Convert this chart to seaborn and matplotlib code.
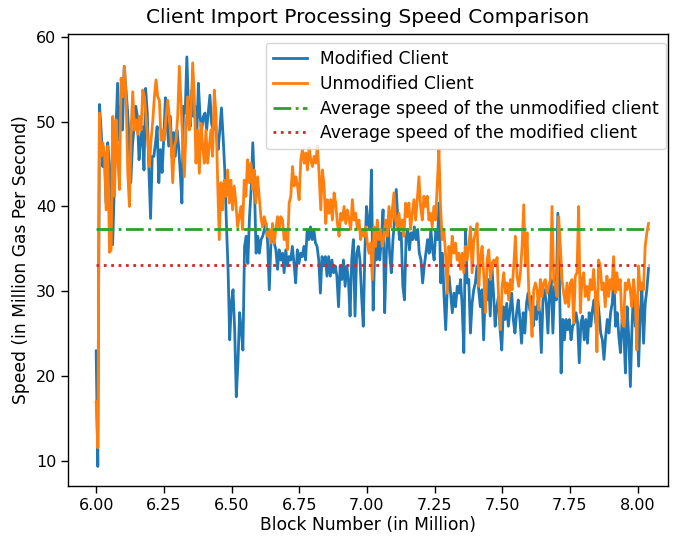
import numpy as np
import matplotlib
matplotlib.use('Agg')
import matplotlib.pyplot as plt
import seaborn as sns

# Speeds (million gas per second), evenly spaced in block number
modified_speed = [
    23.0, 9.4, 52.0, 49.0, 44.7, 46.3, 40.4, 47.5, 45.1, 41.0, 35.5, 42.4, 49.0, 54.5, 47.8, 51.8,
    49.0, 56.5, 54.0, 51.4, 47.8, 42.8, 47.1, 49.4, 51.8, 50.6, 45.5, 47.8, 49.4, 44.3, 53.9, 51.0,
    44.3, 38.6, 45.9, 45.9, 47.5, 49.4, 42.8, 46.7, 44.0, 48.0, 52.8, 49.8, 47.1, 50.6, 45.9, 48.7,
    45.9, 49.0, 47.1, 44.0, 40.4, 51.8,
    51.0, 57.6, 51.8, 49.4, 53.7, 50.6, 51.8, 48.2, 54.5, 50.6, 49.0, 50.6, 51.0, 49.0, 51.0, 53.1,
    49.8, 49.0, 51.0, 48.2, 46.7, 49.0, 51.6, 48.2, 44.3, 38.0, 32.6, 24.3, 28.6, 30.2, 25.5, 17.6,
    21.6, 27.5, 25.5, 23.1, 35.3, 36.5, 33.3, 38.8, 42.0, 47.5, 42.4, 34.5, 36.5, 34.5, 36.1, 36.5,
    37.3, 38.0, 35.7, 30.2, 35.7, 36.5, 35.7, 34.9, 32.6,
    34.9, 33.7, 34.5, 32.2, 34.9, 33.0, 34.1, 33.7, 35.3, 33.3, 31.0, 34.9, 33.3, 34.5, 34.1, 35.3,
    33.7, 37.3, 36.1, 37.6, 36.1, 37.3, 35.7, 35.3, 33.7, 29.8, 34.1, 33.0, 34.1, 31.8, 34.1, 31.8,
    33.7, 32.2, 33.0, 31.8, 28.2, 33.0, 31.4, 33.7, 30.6, 33.0, 31.4, 27.1, 33.7, 36.1, 27.1, 34.5,
    35.3, 33.7, 29.4, 25.9, 34.9, 40.0, 38.0, 37.3, 44.3,
    27.8, 35.3, 33.7, 37.3, 33.7, 36.1, 39.6, 27.5, 34.5, 38.4, 34.5, 32.2, 36.1, 38.4, 42.0, 38.4,
    36.1, 36.9, 30.6, 29.0, 36.5, 37.3, 34.9, 36.9, 36.1, 37.6, 36.1, 37.3, 34.5, 33.7, 31.0, 33.0,
    34.5, 36.1, 34.5, 37.3, 34.9, 33.7, 37.3, 36.1, 40.4, 31.0, 34.5, 29.4, 25.5, 30.6, 31.8, 29.8,
    27.5, 29.8, 28.2, 30.6, 29.8, 31.4, 28.2, 22.8,
    37.3, 31.0, 31.4, 25.1, 28.6, 30.2, 31.0, 33.0, 30.2, 28.2, 30.2, 24.3, 29.8, 29.0, 31.4, 27.1,
    33.0, 29.8, 25.9, 28.2, 29.4, 25.5, 23.1, 28.2, 26.7, 28.6, 25.9, 27.8, 29.8, 26.7, 25.1, 27.5,
    29.0, 26.7, 23.9, 27.5, 25.1, 28.6, 29.8, 27.8, 29.4, 25.9, 28.2, 26.7, 29.0, 27.5, 22.8, 29.0,
    30.2, 28.6, 25.1, 30.2, 31.4, 25.1, 30.6, 29.0,
    39.2, 31.4, 20.4, 26.7, 24.3, 26.7, 25.5, 26.7, 24.3, 25.9, 26.3, 27.5, 26.3, 21.6, 26.3, 27.1,
    24.3, 26.7, 23.9, 27.5, 25.9, 27.8, 29.0, 26.3, 29.4, 27.5, 25.1, 24.3, 22.0, 24.7, 26.7, 25.1,
    27.5, 28.6, 31.8, 25.9, 27.5, 24.7, 22.8, 26.7, 25.5, 20.4, 28.2, 24.7, 18.8, 25.9, 30.6, 25.9,
    27.5, 21.2, 27.5, 30.2, 23.9, 28.6, 30.2, 32.7,
]

unmodified_speed = [
    17.0, 11.6, 51.0, 45.9, 47.5, 46.3, 39.6, 47.1, 34.6, 34.9, 50.6, 41.2, 50.2, 45.9, 42.0, 55.1,
    52.9, 56.5, 52.9, 44.0, 40.0, 49.0, 53.5, 49.0, 50.2, 48.5, 50.6, 49.0, 53.7, 52.9, 50.5, 47.8,
    44.7, 47.8, 50.0, 52.9, 54.9, 52.9, 52.5, 47.8, 49.0, 47.8, 50.6, 52.5, 50.6, 47.8, 42.8, 47.1,
    47.8, 50.6, 56.5, 52.2, 47.5, 43.5,
    49.0, 52.9, 49.0, 51.0, 56.9, 52.9, 45.1, 49.0, 43.9, 49.8, 47.1, 45.1, 49.0, 45.1, 47.1, 49.0,
    45.9, 53.7, 51.0, 43.1, 36.1, 42.8, 39.6, 43.1, 41.2, 44.3, 40.4, 43.1, 39.6, 42.4, 40.4, 37.6,
    38.8, 40.0, 37.3, 43.1, 41.2, 45.5, 42.8, 45.1, 42.0, 44.3, 40.4, 43.5, 41.2, 38.8, 37.6, 38.8,
    38.0, 36.5, 37.3, 35.7, 38.0, 35.7, 37.3,
    38.8, 37.3, 38.8, 38.4, 36.1, 37.3, 34.9, 40.4, 41.2, 44.7, 42.4, 43.5, 42.4, 40.8, 45.5, 46.7,
    45.1, 46.3, 44.3, 46.9, 45.5, 44.7, 45.9, 45.1, 47.1, 43.9, 39.6, 44.3, 42.4, 38.0, 40.8, 39.2,
    40.8, 38.4, 41.6, 40.4, 38.0, 36.5, 39.2, 38.4, 40.0, 38.0, 39.6, 38.4, 37.3, 40.8, 38.4, 39.2,
    37.3, 38.4, 36.1, 37.3, 36.5, 37.6, 35.7, 34.5, 35.7,
    31.4, 37.6, 35.3, 38.4, 36.1, 37.3, 35.3, 36.5, 38.4, 36.5, 40.0, 37.6, 39.6, 41.6, 38.4, 37.6,
    39.2, 37.3, 38.4, 36.5, 40.4, 38.8, 40.4, 37.3, 39.2, 40.8, 38.4, 40.8, 43.5, 40.0, 38.4, 41.2,
    40.0, 41.2, 38.4, 39.2, 37.6, 40.0, 38.4, 42.4, 46.7, 40.0, 36.1, 37.3, 34.5, 29.8, 35.3, 33.3,
    36.5, 34.5, 35.7, 33.7, 34.5, 32.6, 34.5, 32.2,
    35.3, 33.7, 35.3, 37.6, 32.2, 36.1, 36.9, 38.0, 30.6, 34.1, 35.3, 31.8, 27.5, 33.7, 34.9, 31.4,
    33.3, 33.7, 33.0, 34.0, 28.6, 25.5, 30.6, 32.2, 29.8, 31.0, 29.0, 31.4, 30.2, 33.0, 36.5, 31.8,
    30.6, 32.2, 35.3, 40.2, 33.0, 36.9, 30.2, 28.2, 24.7, 30.2, 31.0, 30.2, 27.8, 31.4, 29.4, 31.0,
    31.4, 29.8, 30.6, 31.4, 40.0, 31.4, 30.6, 29.4,
    38.8, 35.3, 31.4, 29.8, 28.6, 31.0, 28.2, 31.0, 31.4, 26.3, 31.8, 32.2, 40.0, 27.5, 31.4, 32.2,
    29.4, 30.6, 29.0, 31.4, 30.2, 32.6, 29.8, 22.9, 33.7, 33.0, 30.2, 31.0, 28.2, 31.8, 29.4, 31.4,
    30.2, 34.1, 29.8, 32.2, 30.2, 31.4, 26.7, 25.9, 31.0, 30.2, 31.4, 30.2, 28.2, 31.4, 29.4, 23.1,
    33.0, 30.2, 31.0, 30.2, 35.3, 36.9, 38.0,
]

block_first = 6.0   # million
block_last = 8.04   # million
avg_unmodified = 37.4
avg_modified = 33.1

blocks_mod = np.linspace(block_first, block_last, len(modified_speed))
blocks_unmod = np.linspace(block_first, block_last, len(unmodified_speed))

fig = plt.figure(figsize=(6.73, 5.36), dpi=100)
ax = fig.add_axes([68 / 673, 50 / 536, 600 / 673, 452 / 536])

lw = 2.0
sns.lineplot(x=blocks_mod, y=modified_speed, ax=ax, color='C0', linewidth=lw,
             label='Modified Client', sort=False)
sns.lineplot(x=blocks_unmod, y=unmodified_speed, ax=ax, color='C1', linewidth=lw,
             label='Unmodified Client', sort=False)
ax.plot([block_first, block_last], [avg_unmodified, avg_unmodified], color='C2', linestyle='-.',
        linewidth=lw, label='Average speed of the unmodified client')
ax.plot([block_first, block_last], [avg_modified, avg_modified], color='C3', linestyle=':',
        linewidth=lw, label='Average speed of the modified client')

ax.set_xlim(5.896, 8.112)
ax.set_ylim(7.1, 60.3)
ax.set_xticks([6.0, 6.25, 6.5, 6.75, 7.0, 7.25, 7.5, 7.75, 8.0])
ax.set_yticks([10, 20, 30, 40, 50, 60])
ax.tick_params(labelsize=11.5, length=5, width=1)
for s in ax.spines.values():
    s.set_linewidth(1)

ax.set_title('Client Import Processing Speed Comparison', fontsize=14.5, pad=8)
ax.set_xlabel('Block Number (in Million)', fontsize=12.3, labelpad=2.5)
ax.set_ylabel('Speed (in Million Gas Per Second)', fontsize=12.3)

ax.legend(loc='upper right', bbox_to_anchor=(598 / 600, (486 - 43) / 452), borderaxespad=0,
          fontsize=12.3, handlelength=2.0, labelspacing=0.4)

fig.savefig('out.png', dpi=100)
